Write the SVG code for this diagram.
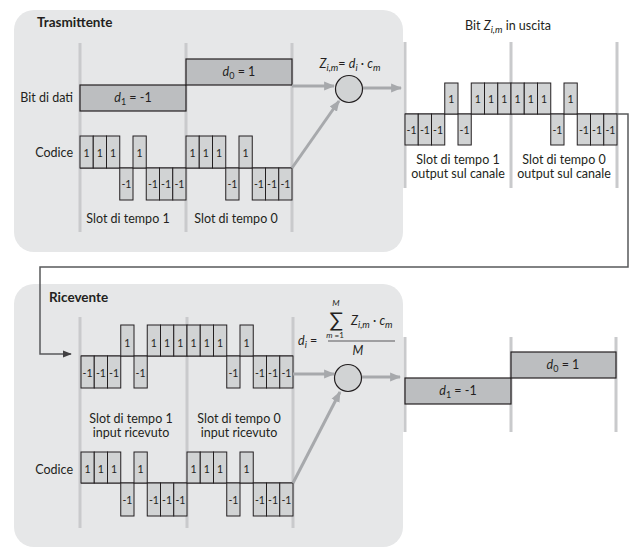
<svg xmlns="http://www.w3.org/2000/svg" width="640" height="555" viewBox="0 0 640 555">
<defs>
<style>
text{font-family:Lato,"Open Sans","DejaVu Sans",sans-serif;fill:#231f20}
.lbl{font-size:12.5px}
.ttl{font-size:13.5px;font-weight:bold}
.ct{font-size:10.5px;text-anchor:middle}
.mid{text-anchor:middle}
.end{text-anchor:end}
.it{font-style:italic}
.panel{fill:#e6e7e8}
.vl{stroke:#c9cacc;stroke-width:3;fill:none}
.chip{fill:#d1d3d4;stroke:#231f20;stroke-width:1}
.base{stroke:#231f20;stroke-width:1;fill:none}
.bit{fill:#bcbec0;stroke:#231f20;stroke-width:1.2}
.ga{stroke:#a7a9ac;stroke-width:3;fill:none}
.circ{fill:#d1d3d4;stroke:#231f20;stroke-width:1.2}
.conn{stroke:#58595b;stroke-width:1.5;fill:none}
</style>
<marker id="ag" viewBox="0 0 10 10" refX="9" refY="5" markerWidth="11" markerHeight="11" markerUnits="userSpaceOnUse" orient="auto"><path d="M0,1 L10,5 L0,9 z" fill="#a7a9ac"/></marker>
<marker id="ad" viewBox="0 0 10 10" refX="9" refY="5" markerWidth="9" markerHeight="9" markerUnits="userSpaceOnUse" orient="auto"><path d="M0,1 L10,5 L0,9 z" fill="#414042"/></marker>
</defs>

<!-- Transmitter panel -->
<g id="trasmittente">
<rect class="panel" x="14" y="10" width="389" height="242" rx="20"/>
<text class="ttl" x="37" y="27">Trasmittente</text>
<path class="vl" d="M80,43V232M186,43V232M292,43V232"/>
</g>

<g id="bit-dati-tx">
<text class="lbl end" x="73" y="102">Bit di dati</text>
<rect class="bit" x="80" y="85" width="106" height="26"/>
<text class="lbl mid" x="133" y="102"><tspan class="it">d</tspan><tspan font-size="9" dy="3">1</tspan><tspan dy="-3"> = -1</tspan></text>
<rect class="bit" x="186" y="59" width="106" height="26"/>
<text class="lbl mid" x="239" y="76"><tspan class="it">d</tspan><tspan font-size="9" dy="3">0</tspan><tspan dy="-3"> = 1</tspan></text>
</g>

<g id="codice-tx">
<text class="lbl end" x="73" y="157">Codice</text>
<path class="base" d="M80,168H292"/>
<rect class="chip" x="80" y="136" width="13.25" height="32"/><text class="ct" x="86.6" y="157">1</text>
<rect class="chip" x="93.25" y="136" width="13.25" height="32"/><text class="ct" x="99.9" y="157">1</text>
<rect class="chip" x="106.5" y="136" width="13.25" height="32"/><text class="ct" x="113.1" y="157">1</text>
<rect class="chip" x="119.75" y="168" width="13.25" height="32"/><text class="ct" x="126.4" y="188">-1</text>
<rect class="chip" x="133" y="136" width="13.25" height="32"/><text class="ct" x="139.6" y="157">1</text>
<rect class="chip" x="146.25" y="168" width="13.25" height="32"/><text class="ct" x="152.9" y="188">-1</text>
<rect class="chip" x="159.5" y="168" width="13.25" height="32"/><text class="ct" x="166.1" y="188">-1</text>
<rect class="chip" x="172.75" y="168" width="13.25" height="32"/><text class="ct" x="179.4" y="188">-1</text>
<rect class="chip" x="186" y="136" width="13.25" height="32"/><text class="ct" x="192.6" y="157">1</text>
<rect class="chip" x="199.25" y="136" width="13.25" height="32"/><text class="ct" x="205.9" y="157">1</text>
<rect class="chip" x="212.5" y="136" width="13.25" height="32"/><text class="ct" x="219.1" y="157">1</text>
<rect class="chip" x="225.75" y="168" width="13.25" height="32"/><text class="ct" x="232.4" y="188">-1</text>
<rect class="chip" x="239" y="136" width="13.25" height="32"/><text class="ct" x="245.6" y="157">1</text>
<rect class="chip" x="252.25" y="168" width="13.25" height="32"/><text class="ct" x="258.9" y="188">-1</text>
<rect class="chip" x="265.5" y="168" width="13.25" height="32"/><text class="ct" x="272.1" y="188">-1</text>
<rect class="chip" x="278.75" y="168" width="13.25" height="32"/><text class="ct" x="285.4" y="188">-1</text>
<text class="lbl mid" x="128" y="223">Slot di tempo 1</text>
<text class="lbl mid" x="236" y="223">Slot di tempo 0</text>
</g>

<g id="moltiplicatore-tx">
<text class="lbl mid" x="350" y="68"><tspan class="it">Z</tspan><tspan class="it" font-size="9.5" dy="3">i,m</tspan><tspan dy="-3">= </tspan><tspan class="it">d</tspan><tspan class="it" font-size="9.5" dy="3">i</tspan><tspan dy="-3"> · </tspan><tspan class="it">c</tspan><tspan class="it" font-size="9.5" dy="3">m</tspan></text>
<circle class="circ" cx="349" cy="89" r="13.5"/>
</g>

<!-- Output on channel -->
<g id="uscita">
<text class="lbl mid" x="508" y="30">Bit <tspan class="it">Z</tspan><tspan class="it" font-size="9.5" dy="3">i,m</tspan><tspan dy="-3"> in uscita</tspan></text>
<path class="vl" d="M405,42V188M511,42V188M617,42V188"/>
<path class="base" d="M405,114H617"/>
<rect class="chip" x="405" y="114" width="13.25" height="31"/><text class="ct" x="411.6" y="134">-1</text>
<rect class="chip" x="418.25" y="114" width="13.25" height="31"/><text class="ct" x="424.9" y="134">-1</text>
<rect class="chip" x="431.5" y="114" width="13.25" height="31"/><text class="ct" x="438.1" y="134">-1</text>
<rect class="chip" x="444.75" y="83" width="13.25" height="31"/><text class="ct" x="451.4" y="103">1</text>
<rect class="chip" x="458" y="114" width="13.25" height="31"/><text class="ct" x="464.6" y="134">-1</text>
<rect class="chip" x="471.25" y="83" width="13.25" height="31"/><text class="ct" x="477.9" y="103">1</text>
<rect class="chip" x="484.5" y="83" width="13.25" height="31"/><text class="ct" x="491.1" y="103">1</text>
<rect class="chip" x="497.75" y="83" width="13.25" height="31"/><text class="ct" x="504.4" y="103">1</text>
<rect class="chip" x="511" y="83" width="13.25" height="31"/><text class="ct" x="517.6" y="103">1</text>
<rect class="chip" x="524.25" y="83" width="13.25" height="31"/><text class="ct" x="530.9" y="103">1</text>
<rect class="chip" x="537.5" y="83" width="13.25" height="31"/><text class="ct" x="544.1" y="103">1</text>
<rect class="chip" x="550.75" y="114" width="13.25" height="31"/><text class="ct" x="557.4" y="134">-1</text>
<rect class="chip" x="564" y="83" width="13.25" height="31"/><text class="ct" x="570.6" y="103">1</text>
<rect class="chip" x="577.25" y="114" width="13.25" height="31"/><text class="ct" x="583.9" y="134">-1</text>
<rect class="chip" x="590.5" y="114" width="13.25" height="31"/><text class="ct" x="597.1" y="134">-1</text>
<rect class="chip" x="603.75" y="114" width="13.25" height="31"/><text class="ct" x="610.4" y="134">-1</text>
<text class="lbl mid" x="458" y="164">Slot di tempo 1</text>
<text class="lbl mid" x="458" y="178">output sul canale</text>
<text class="lbl mid" x="564" y="164">Slot di tempo 0</text>
<text class="lbl mid" x="564" y="178">output sul canale</text>
</g>

<!-- Receiver panel -->
<g id="ricevente">
<rect class="panel" x="14" y="284" width="389" height="263" rx="20"/>
<text class="ttl" x="49" y="302">Ricevente</text>
<path class="vl" d="M80,317V528M187,317V528M293,317V528"/>
</g>

<g id="ricevuto">
<path class="base" d="M81,356H293"/>
<rect class="chip" x="81" y="356" width="13.25" height="32"/><text class="ct" x="87.6" y="377">-1</text>
<rect class="chip" x="94.25" y="356" width="13.25" height="32"/><text class="ct" x="100.9" y="377">-1</text>
<rect class="chip" x="107.5" y="356" width="13.25" height="32"/><text class="ct" x="114.1" y="377">-1</text>
<rect class="chip" x="120.75" y="325" width="13.25" height="31"/><text class="ct" x="127.4" y="347">1</text>
<rect class="chip" x="134" y="356" width="13.25" height="32"/><text class="ct" x="140.6" y="377">-1</text>
<rect class="chip" x="147.25" y="325" width="13.25" height="31"/><text class="ct" x="153.9" y="347">1</text>
<rect class="chip" x="160.5" y="325" width="13.25" height="31"/><text class="ct" x="167.1" y="347">1</text>
<rect class="chip" x="173.75" y="325" width="13.25" height="31"/><text class="ct" x="180.4" y="347">1</text>
<rect class="chip" x="187" y="325" width="13.25" height="31"/><text class="ct" x="193.6" y="347">1</text>
<rect class="chip" x="200.25" y="325" width="13.25" height="31"/><text class="ct" x="206.9" y="347">1</text>
<rect class="chip" x="213.5" y="325" width="13.25" height="31"/><text class="ct" x="220.1" y="347">1</text>
<rect class="chip" x="226.75" y="356" width="13.25" height="32"/><text class="ct" x="233.4" y="377">-1</text>
<rect class="chip" x="240" y="325" width="13.25" height="31"/><text class="ct" x="246.6" y="347">1</text>
<rect class="chip" x="253.25" y="356" width="13.25" height="32"/><text class="ct" x="259.9" y="377">-1</text>
<rect class="chip" x="266.5" y="356" width="13.25" height="32"/><text class="ct" x="273.1" y="377">-1</text>
<rect class="chip" x="279.75" y="356" width="13.25" height="32"/><text class="ct" x="286.4" y="377">-1</text>
<text class="lbl mid" x="131" y="423">Slot di tempo 1</text>
<text class="lbl mid" x="131" y="437">input ricevuto</text>
<text class="lbl mid" x="239" y="423">Slot di tempo 0</text>
<text class="lbl mid" x="239" y="437">input ricevuto</text>
</g>

<g id="codice-rx">
<text class="lbl end" x="73" y="474">Codice</text>
<path class="base" d="M81,483H293"/>
<rect class="chip" x="81" y="452" width="13.25" height="31"/><text class="ct" x="87.6" y="473">1</text>
<rect class="chip" x="94.25" y="452" width="13.25" height="31"/><text class="ct" x="100.9" y="473">1</text>
<rect class="chip" x="107.5" y="452" width="13.25" height="31"/><text class="ct" x="114.1" y="473">1</text>
<rect class="chip" x="120.75" y="483" width="13.25" height="33"/><text class="ct" x="127.4" y="504">-1</text>
<rect class="chip" x="134" y="452" width="13.25" height="31"/><text class="ct" x="140.6" y="473">1</text>
<rect class="chip" x="147.25" y="483" width="13.25" height="33"/><text class="ct" x="153.9" y="504">-1</text>
<rect class="chip" x="160.5" y="483" width="13.25" height="33"/><text class="ct" x="167.1" y="504">-1</text>
<rect class="chip" x="173.75" y="483" width="13.25" height="33"/><text class="ct" x="180.4" y="504">-1</text>
<rect class="chip" x="187" y="452" width="13.25" height="31"/><text class="ct" x="193.6" y="473">1</text>
<rect class="chip" x="200.25" y="452" width="13.25" height="31"/><text class="ct" x="206.9" y="473">1</text>
<rect class="chip" x="213.5" y="452" width="13.25" height="31"/><text class="ct" x="220.1" y="473">1</text>
<rect class="chip" x="226.75" y="483" width="13.25" height="33"/><text class="ct" x="233.4" y="504">-1</text>
<rect class="chip" x="240" y="452" width="13.25" height="31"/><text class="ct" x="246.6" y="473">1</text>
<rect class="chip" x="253.25" y="483" width="13.25" height="33"/><text class="ct" x="259.9" y="504">-1</text>
<rect class="chip" x="266.5" y="483" width="13.25" height="33"/><text class="ct" x="273.1" y="504">-1</text>
<rect class="chip" x="279.75" y="483" width="13.25" height="33"/><text class="ct" x="286.4" y="504">-1</text>
</g>

<g id="moltiplicatore-rx">
<text class="lbl" x="298" y="345"><tspan class="it">d</tspan><tspan class="it" font-size="9.5" dy="3">i</tspan><tspan dy="-3"> =</tspan></text>
<text class="mid it" x="336" y="306" font-size="8.5">M</text>
<text class="mid" x="336" y="327" font-size="20">∑</text>
<text class="mid" x="335" y="338" font-size="8"><tspan class="it">m</tspan> <tspan font-weight="bold">=</tspan>1</text>
<text class="lbl" x="351" y="325"><tspan class="it">Z</tspan><tspan class="it" font-size="9.5" dy="3">i,m</tspan><tspan dy="-3"> · </tspan><tspan class="it">c</tspan><tspan class="it" font-size="9.5" dy="3">m</tspan></text>
<path d="M328,341H395" stroke="#58595b" stroke-width="1.2"/>
<text class="lbl mid it" x="358" y="355">M</text>
<circle class="circ" cx="348" cy="378" r="13.5"/>
</g>

<g id="bit-dati-rx">
<path class="vl" d="M405,337V432M511,337V432M616,337V432"/>
<rect class="bit" x="405" y="378" width="106" height="26"/>
<text class="lbl mid" x="458" y="395"><tspan class="it">d</tspan><tspan font-size="9" dy="3">1</tspan><tspan dy="-3"> = -1</tspan></text>
<rect class="bit" x="511" y="352" width="105" height="26"/>
<text class="lbl mid" x="563" y="369"><tspan class="it">d</tspan><tspan font-size="9" dy="3">0</tspan><tspan dy="-3"> = 1</tspan></text>
</g>

<g id="connettori">
<path class="ga" d="M292,86H334" marker-end="url(#ag)"/>
<path class="ga" d="M292,168L339,101" marker-end="url(#ag)"/>
<path class="ga" d="M363,88H401" marker-end="url(#ag)"/>
<path class="conn" d="M617,114H628V267H40V354H71" marker-end="url(#ad)"/>
<path class="ga" d="M293,374H334" marker-end="url(#ag)"/>
<path class="ga" d="M293,483L340,392" marker-end="url(#ag)"/>
<path class="ga" d="M362,377H400" marker-end="url(#ag)"/>
</g>
</svg>
